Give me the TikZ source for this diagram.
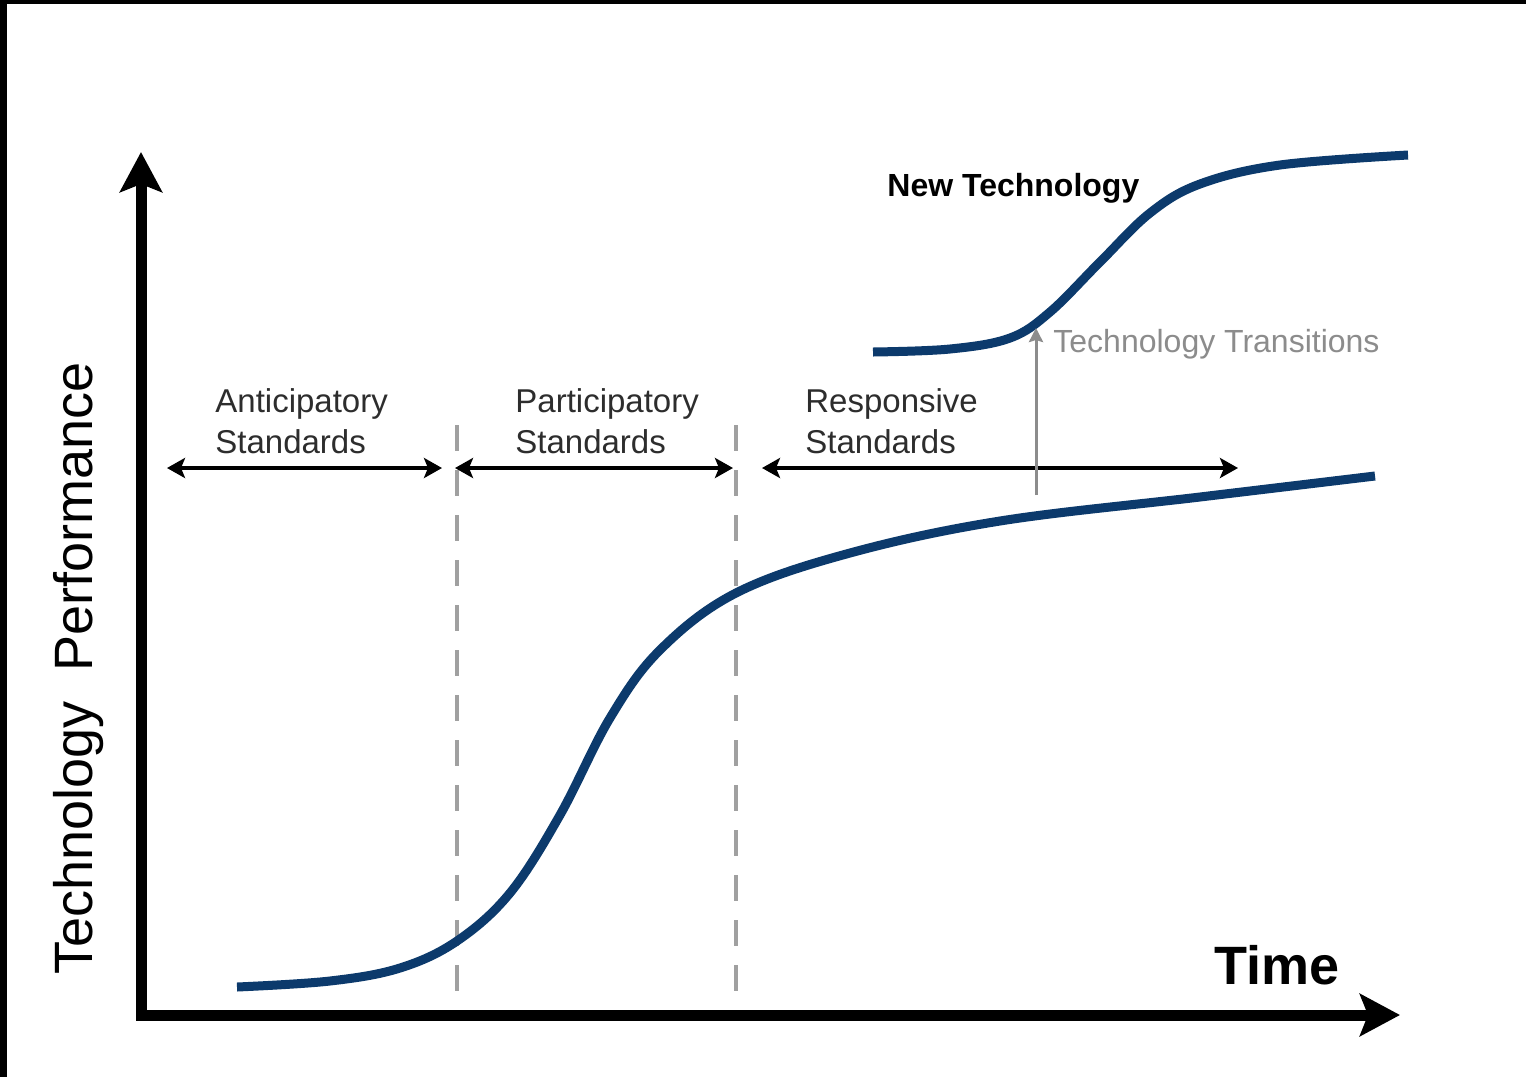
\documentclass[tikz,border=0pt]{standalone}
\usepackage{fontspec}
\setmainfont{Liberation Sans}
\usetikzlibrary{arrows.meta}
\definecolor{curveblue}{RGB}{12,58,108}
\definecolor{dashgray}{RGB}{160,160,160}
\definecolor{transgray}{RGB}{140,140,140}
\definecolor{labelgray}{RGB}{45,45,45}
\begin{document}
\begin{tikzpicture}[x=0.5pt,y=-0.5pt,
  axis/.style={line width=5.5pt, line join=miter,
    {Stealth[length=20pt,width=21pt,inset=4pt]}-{Stealth[length=20pt,width=21pt,inset=4pt]}},
  scurve/.style={curveblue, line width=4.5pt, line cap=butt},
  divider/.style={dashgray, line width=2pt, dash pattern=on 13pt off 9.5pt},
  span/.style={line width=2.2pt,
    {Stealth[length=9pt,width=10pt,inset=2pt]}-{Stealth[length=9pt,width=10pt,inset=2pt]}},
  transarrow/.style={transgray, line width=1.5pt, -{Stealth[length=7pt,width=7pt,inset=1pt]}},
  stdlabel/.style={labelgray, font=\fontsize{16.5}{20.5}\selectfont, align=left, inner sep=0pt, anchor=north west},
  plain/.style={inner sep=0pt}
]
\useasboundingbox (0,0) rectangle (1526,1077);
\fill[white] (0,0) rectangle (1526,1077);
% black frame strips
\fill[black] (0,0) rectangle (1526,4);
\fill[black] (0,0) rectangle (7,1077);

% axes
\coordinate (ytop) at (141,152);
\coordinate (origin) at (141,1015);
\coordinate (xend) at (1400,1015);
\draw[axis] (ytop) -- (origin) -- (xend);

% dashed dividers
\coordinate (d1top) at (457,425);
\coordinate (d1bot) at (457,992);
\coordinate (d2top) at (736,425);
\coordinate (d2bot) at (736,992);
\draw[divider] (d1top) -- (d1bot);
\draw[divider] (d2top) -- (d2bot);

% main S-curve
\draw[scurve] plot[smooth, tension=0.6] coordinates {
  (237,987) (330,981) (400,968) (457,941) (510,893) (560,815)
  (610,718) (660,650) (736,593) (850,553) (1000,521) (1200,497) (1375,476)};

% new technology curve
\draw[scurve] plot[smooth, tension=0.6] coordinates {
  (873,352) (950,349) (1010,338) (1050,312) (1100,262) (1150,213)
  (1200,184) (1280,165) (1408,155)};

% span arrows
\coordinate (a1l) at (167,468);
\coordinate (a1r) at (442,468);
\coordinate (a2l) at (455,468);
\coordinate (a2r) at (733,468);
\coordinate (a3l) at (762,468);
\coordinate (a3r) at (1238,468);
\draw[span] (a1l) -- (a1r);
\draw[span] (a2l) -- (a2r);
\draw[span] (a3l) -- (a3r);

% transition arrow
\coordinate (tbot) at (1036,495);
\coordinate (ttip) at (1036,328);
\draw[transarrow] (tbot) -- (ttip);

% labels
\node[stdlabel] (ant) at (215,388) {Anticipatory\\Standards};
\node[stdlabel] (par) at (515,388) {Participatory\\Standards};
\node[stdlabel] (res) at (805,388) {Responsive\\Standards};
\node[plain, anchor=base west, font=\fontsize{16}{18}\selectfont\bfseries] (newt) at (887,196) {New Technology};
\node[plain, anchor=base west, transgray, font=\fontsize{16}{19}\selectfont] (trans) at (1053,352) {Technology Transitions};
\node[plain, anchor=base west, font=\fontsize{27}{30}\selectfont\bfseries] (time) at (1214,984) {Time};
\node[plain, anchor=base west, rotate=90, font=\fontsize{27}{30}\selectfont] (perf) at (92,975) {Technology~~Performance};
\end{tikzpicture}
\end{document}
